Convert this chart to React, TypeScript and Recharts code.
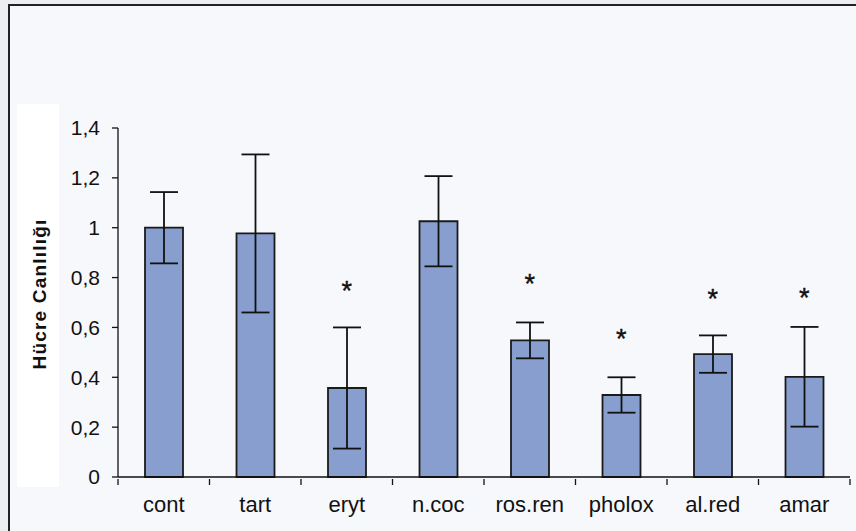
import React from 'react';
import { ComposedChart, Bar, ErrorBar, Scatter, XAxis, YAxis } from 'recharts';

const categories = ['cont', 'tart', 'eryt', 'n.coc', 'ros.ren', 'pholox', 'al.red', 'amar'];
const viability = [1.0, 0.977, 0.357, 1.026, 0.548, 0.329, 0.493, 0.402];
const errors = [0.143, 0.317, 0.243, 0.181, 0.072, 0.071, 0.075, 0.2];
const starLevels: (number | null)[] = [null, null, 0.77, null, 0.798, 0.578, 0.738, 0.742];
const yTicks = [0, 0.2, 0.4, 0.6, 0.8, 1, 1.2, 1.4];

const data = categories.map((name, i) => ({
  name,
  value: viability[i],
  err: errors[i],
  star: starLevels[i],
}));

const W = 856;
const H = 531;
const M = { top: 128, right: 6, bottom: 14, left: 58 };
const Y_AXIS_W = 60;
const X_AXIS_H = 40;
const PLOT_LEFT = M.left + Y_AXIS_W;
const BAND = (W - M.right - PLOT_LEFT) / categories.length;
const FONT = '"Liberation Sans", Arial, sans-serif';
const INK = '#111';

const XTick = (props: any) => {
  const { x, y, payload, index } = props;
  const left = x - BAND / 2;
  const right = x + BAND / 2;
  return (
    <g>
      <line x1={left} y1={y - 6} x2={left} y2={y} stroke={INK} strokeWidth={1.3} />
      {index === categories.length - 1 && (
        <line x1={right} y1={y - 6} x2={right} y2={y} stroke={INK} strokeWidth={1.3} />
      )}
      <text x={x} y={y + 27} textAnchor="middle" fontFamily={FONT} fontSize={22} fill={INK}>
        {payload.value}
      </text>
    </g>
  );
};

const StarShape = (props: any) => {
  const { cx, cy, payload } = props;
  if (payload == null || payload.star == null || cx == null || cy == null) return <g />;
  return (
    <text
      x={cx}
      y={cy + 15}
      textAnchor="middle"
      fontFamily={FONT}
      fontSize={27}
      fill={INK}
      stroke={INK}
      strokeWidth={0.4}
    >
      *
    </text>
  );
};

export default function App() {
  return (
    <div
      style={{
        position: 'absolute',
        left: 0,
        top: 0,
        width: W,
        height: H,
        overflow: 'hidden',
        background: '#eceef2',
      }}
    >
      <div
        style={{
          position: 'absolute',
          left: 8,
          top: 4,
          width: W + 20,
          height: H + 20,
          borderLeft: '2px solid #222',
          borderTop: '2.5px solid #222',
          background: '#f7f8fc',
        }}
      />
      <div
        style={{
          position: 'absolute',
          left: 17,
          top: 104,
          width: 42,
          height: 383,
          background: '#ffffff',
        }}
      />
      <div style={{ position: 'absolute', left: 0, top: 0 }}>
        <ComposedChart width={W} height={H} data={data} margin={M}>
          <XAxis
            dataKey="name"
            type="category"
            height={X_AXIS_H}
            tick={<XTick />}
            tickLine={false}
            axisLine={{ stroke: INK, strokeWidth: 1.3 }}
            interval={0}
          />
          <YAxis
            width={Y_AXIS_W}
            domain={[0, 1.4]}
            ticks={yTicks}
            interval={0}
            tickSize={6}
            tickMargin={12}
            tickFormatter={(v: number) => String(v).replace('.', ',')}
            tick={{ fontFamily: FONT, fontSize: 21, fill: INK }}
            tickLine={{ stroke: INK, strokeWidth: 1.3 }}
            axisLine={{ stroke: INK, strokeWidth: 1.3 }}
            label={{
              content: () => (
                <text
                  x={39}
                  y={294}
                  transform="rotate(-90, 39, 294)"
                  textAnchor="middle"
                  dominantBaseline="central"
                  fontFamily={FONT}
                  fontWeight="bold"
                  fontSize={19}
                  letterSpacing={1.2}
                  fill={INK}
                >
                  Hücre Canlılığı
                </text>
              ),
            }}
          />
          <Bar
            dataKey="value"
            barSize={38}
            fill="#889ecf"
            stroke="#1a1a1a"
            strokeWidth={1.8}
            isAnimationActive={false}
          >
            <ErrorBar dataKey="err" width={14} stroke={INK} strokeWidth={1.8} direction="y" />
          </Bar>
          <Scatter dataKey="star" shape={<StarShape />} isAnimationActive={false} />
        </ComposedChart>
      </div>
    </div>
  );
}
